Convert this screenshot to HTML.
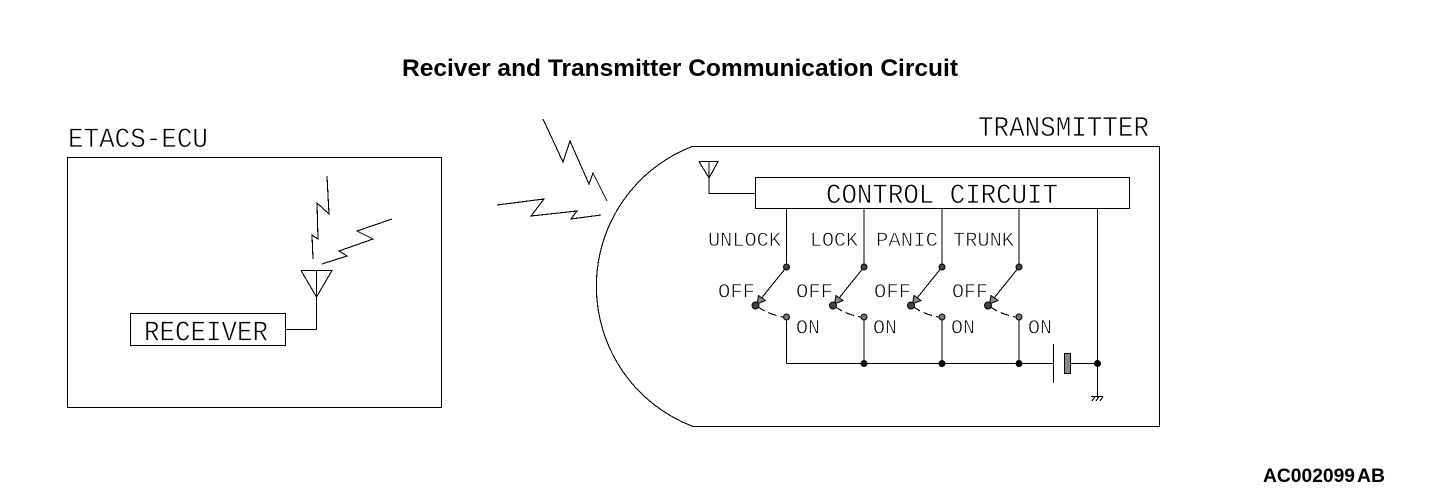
<!DOCTYPE html>
<html>
<head>
<meta charset="utf-8">
<style>
html,body{margin:0;padding:0;background:#fff;width:1440px;height:494px;overflow:hidden}
svg{display:block}
.m{font-family:"Liberation Mono",monospace;fill:#000;stroke:#fff;stroke-width:.65}
.b{font-family:"Liberation Sans",sans-serif;font-weight:bold;fill:#000}
.l{fill:none;stroke:#000;stroke-width:1.1;shape-rendering:crispEdges}
</style>
</head>
<body>
<svg width="1440" height="494" viewBox="0 0 1440 494" xmlns="http://www.w3.org/2000/svg">
<defs>
<g id="sw">
<path class="l" d="M786.5 208V267L756 305"/>
<path d="M757 304L758.500 295.500L765.500 300.500Z" fill="#888" stroke="#000" stroke-width="1"/>
<path class="l" stroke-dasharray="9 4" d="M757 306Q767 314 783 317"/>
<path class="l" d="M786.5 317V363.5"/>
<circle cx="786.5" cy="267" r="3" fill="#444" stroke="#000" stroke-width="1"/>
<circle cx="786.5" cy="317" r="3" fill="#777" stroke="#000" stroke-width="1"/>
<circle cx="755.5" cy="305.5" r="3.500" fill="#444" stroke="#000" stroke-width="1"/>
</g>
</defs>

<text class="b" x="402" y="76" font-size="24" textLength="556" lengthAdjust="spacingAndGlyphs">Reciver and Transmitter Communication Circuit</text>

<!-- ETACS-ECU -->
<text class="m" x="68" y="147" font-size="28" textLength="140" lengthAdjust="spacingAndGlyphs">ETACS-ECU</text>
<rect class="l" x="67.5" y="157.5" width="374" height="250"/>
<rect class="l" x="130.5" y="313.5" width="155" height="32"/>
<text class="m" x="144" y="340.500" font-size="29" textLength="124" lengthAdjust="spacingAndGlyphs">RECEIVER</text>
<path class="l" d="M301 270.500H332L316.500 297L301 270.500M316.500 270.500V329.500H285.500"/>
<path class="l" d="M327 176L329 214L317 203L318 239L312 235L313 259"/>
<path class="l" d="M392 219L357 231L373 239L339 251L347 256L322 264"/>

<!-- waves -->
<path class="l" d="M543 119L563 162L570 141L589 184L593 173L607 201"/>
<path class="l" d="M497 205L544 199L531 216L577 211L571 219L601 215"/>

<!-- TRANSMITTER -->
<text class="m" x="978" y="136" font-size="29" textLength="171" lengthAdjust="spacingAndGlyphs">TRANSMITTER</text>
<path class="l" d="M692 146.500H1159.500V426.500H693A150 150 0 0 1 692 146.500Z"/>
<rect class="l" x="755.5" y="177.5" width="374" height="31"/>
<text class="m" x="826" y="203" font-size="28" textLength="232" lengthAdjust="spacingAndGlyphs">CONTROL CIRCUIT</text>
<path class="l" d="M699 161.500H718L709 178L699 161.500M709 161.500V193.500H755.500"/>

<use href="#sw"/>
<use href="#sw" x="77.500"/>
<use href="#sw" x="155.500"/>
<use href="#sw" x="232.500"/>

<path class="l" d="M786.500 363.500H1053.500M1053.500 344V383M1071 363.500H1097.500M1097.500 208.500V398"/>
<rect x="1064.500" y="353.500" width="6" height="20" fill="#888" stroke="#000" stroke-width="1"/>
<circle cx="864" cy="363.500" r="3.500"/>
<circle cx="942" cy="363.500" r="3.500"/>
<circle cx="1019" cy="363.500" r="3.500"/>
<circle cx="1097.500" cy="363.500" r="3.500"/>
<path class="l" d="M1091 396.500H1103M1095 396.500L1092 401M1099 396.500L1096 401M1103 396.500L1100 401"/>

<g font-size="20">
<text class="m" x="708" y="246" textLength="73" lengthAdjust="spacingAndGlyphs">UNLOCK</text>
<text class="m" x="810" y="246" textLength="48" lengthAdjust="spacingAndGlyphs">LOCK</text>
<text class="m" x="876" y="246" textLength="62" lengthAdjust="spacingAndGlyphs">PANIC</text>
<text class="m" x="953" y="246" textLength="61" lengthAdjust="spacingAndGlyphs">TRUNK</text>
<text class="m" x="718" y="297.500" textLength="37" lengthAdjust="spacingAndGlyphs">OFF</text>
<text class="m" x="796" y="297.500" textLength="37" lengthAdjust="spacingAndGlyphs">OFF</text>
<text class="m" x="874" y="297.500" textLength="37" lengthAdjust="spacingAndGlyphs">OFF</text>
<text class="m" x="952" y="297.500" textLength="36" lengthAdjust="spacingAndGlyphs">OFF</text>
<text class="m" x="796" y="333.500" textLength="24" lengthAdjust="spacingAndGlyphs">ON</text>
<text class="m" x="873" y="333.500" textLength="24" lengthAdjust="spacingAndGlyphs">ON</text>
<text class="m" x="951" y="333.500" textLength="24" lengthAdjust="spacingAndGlyphs">ON</text>
<text class="m" x="1028" y="333.500" textLength="24" lengthAdjust="spacingAndGlyphs">ON</text>
</g>

<text class="b" x="1263" y="482" font-size="19" textLength="92" lengthAdjust="spacingAndGlyphs">AC002099</text>
<text class="b" x="1357" y="482" font-size="19" textLength="28" lengthAdjust="spacingAndGlyphs">AB</text>
</svg>
</body>
</html>
